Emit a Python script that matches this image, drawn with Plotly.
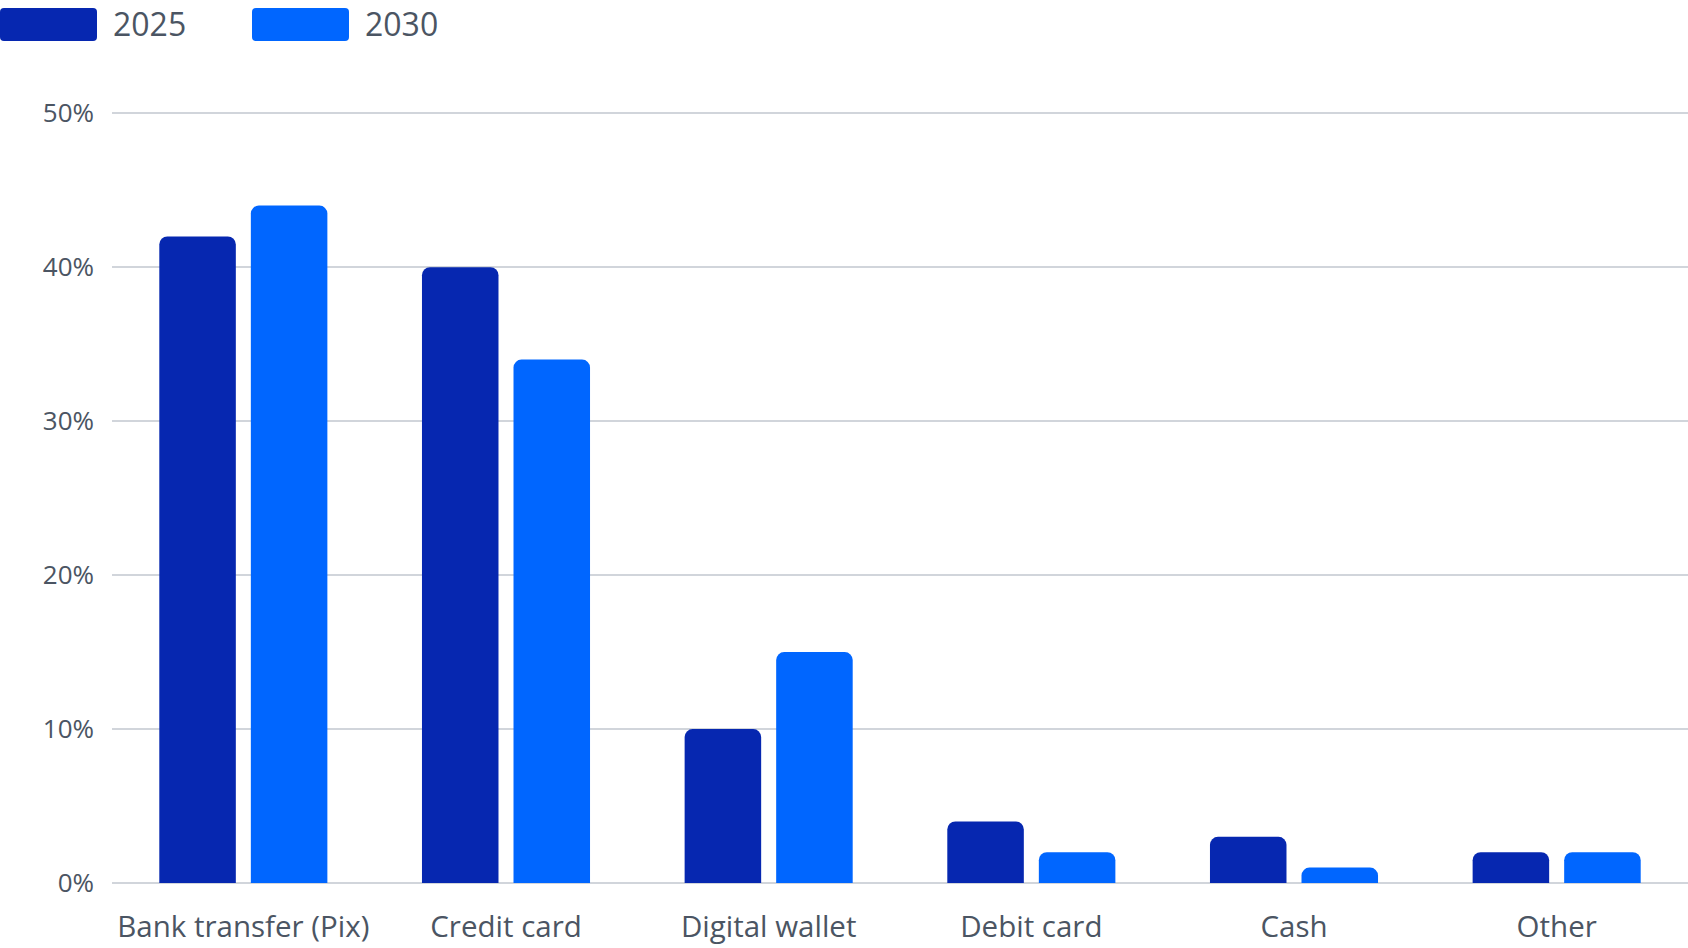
import plotly.graph_objects as go

categories = ["Bank transfer (Pix)", "Credit card", "Digital wallet", "Debit card", "Cash", "Other"]
share_2025 = [42, 40, 10, 4, 3, 2]
share_2030 = [44, 34, 15, 2, 1, 2]
years = ["2025", "2030"]
y_ticks = [0, 10, 20, 30, 40, 50]
y_tick_labels = ["0%", "10%", "20%", "30%", "40%", "50%"]
colors = ["#0627b0", "#0066ff"]

W, H = 1688, 948
ML, MR, MT, MB = 112, 0, 112, 65
PW, PH = W - ML - MR, H - MT - MB

text_color = "#4b5563"
grid_color = "#d1d5db"
font = "Open Sans"

fig = go.Figure()
for name, vals, c in zip(years, [share_2025, share_2030], colors):
    fig.add_trace(go.Bar(x=categories, y=vals, name=name, marker_color=c,
                         marker_line_width=0, showlegend=False))


def px_x(p):
    return (p - ML) / PW


def px_y(p):
    return (H - MB - p) / PH


def rounded_rect(x0, y0, x1, y1, r):
    # pixel box -> paper path with rounded corners
    rx, ry = r / PW, r / PH
    a, b, c, d = px_x(x0), px_y(y1), px_x(x1), px_y(y0)
    return (f"M{a+rx},{b} L{c-rx},{b} Q{c},{b} {c},{b+ry} L{c},{d-ry} Q{c},{d} {c-rx},{d} "
            f"L{a+rx},{d} Q{a},{d} {a},{d-ry} L{a},{b+ry} Q{a},{b} {a+rx},{b} Z")


# legend drawn by hand: wide rounded swatches
legend_x = [0, 252]
for lx, name, c in zip(legend_x, years, colors):
    fig.add_shape(type="path", xref="paper", yref="paper",
                  path=rounded_rect(lx, 8, lx + 97, 41, 4),
                  fillcolor=c, line_width=0)
    fig.add_annotation(x=px_x(lx + 111), y=px_y(24), xref="paper", yref="paper",
                       text=name, showarrow=False, xanchor="left", yanchor="middle",
                       font=dict(size=32, color=text_color, family=font))

fig.update_layout(
    width=W, height=H,
    margin=dict(l=ML, r=MR, t=MT, b=MB),
    paper_bgcolor="white", plot_bgcolor="white",
    barmode="group", bargap=0.303, bargroupgap=0.164,
    barcornerradius=8,
    font=dict(family=font, color=text_color),
)
fig.update_xaxes(showline=False, showgrid=False, ticks="",
                 tickfont=dict(size=29.5, color=text_color), ticklabelstandoff=23)
fig.update_yaxes(range=[0, 50.08], tickvals=y_ticks, ticktext=y_tick_labels,
                 showline=False, gridcolor=grid_color, gridwidth=1.5,
                 zeroline=True, zerolinecolor=grid_color, zerolinewidth=1.5,
                 tickfont=dict(size=26, color=text_color), ticklabelstandoff=17)

fig.write_html("out.html", config={"displayModeBar": False},
               post_script="document.body.style.margin='0';")
